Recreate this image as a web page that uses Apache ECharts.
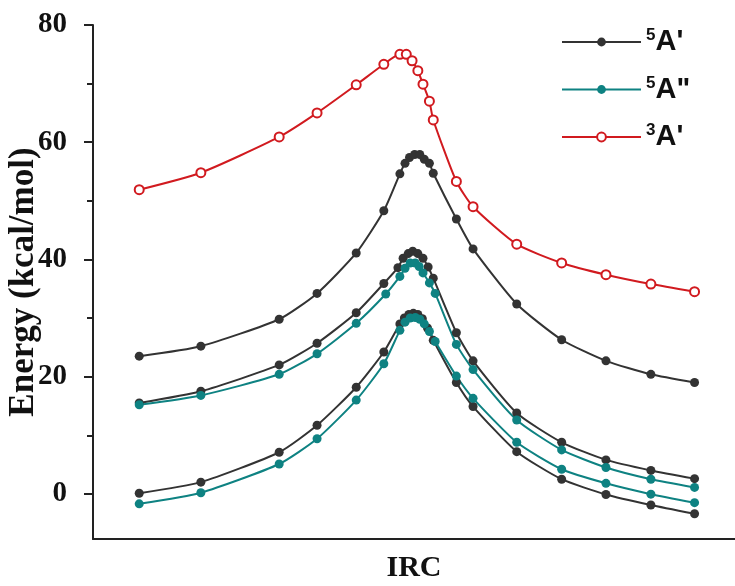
<!DOCTYPE html>
<html>
<head>
<meta charset="utf-8">
<script src="https://cdn.jsdelivr.net/npm/echarts@6/dist/echarts.min.js"></script>
<style>html,body{margin:0;padding:0;background:#fff}#c{width:735px;height:586px}</style>
</head>
<body>
<div id="c"></div>
<script>
// IRC coordinates (arbitrary units) and energies (kcal/mol)
const redX = [7.2,16.8,29.0,34.9,41.0,45.3,47.8,48.8,49.7,50.6,51.4,52.4,53.0,56.6,59.2,66.0,73.0,79.9,86.9,93.7];
const redY = [51.9,54.8,60.9,65.0,69.8,73.3,75.0,75.0,73.9,72.2,69.9,67.0,63.8,53.3,49.0,42.6,39.4,37.4,35.8,34.5];

const blkTopX = [7.2,16.8,29.0,34.9,41.0,45.3,47.8,48.6,49.3,50.1,50.9,51.6,52.4,53.0,56.6,59.2,66.0,73.0,79.9,86.9,93.7];
const blkTopY = [23.5,25.2,29.8,34.2,41.1,48.3,54.6,56.4,57.4,57.9,57.9,57.1,56.4,54.7,46.9,41.8,32.4,26.3,22.7,20.4,19.0];

const blkMidX = [7.2,16.8,29.0,34.9,41.0,45.3,47.5,48.3,49.1,49.8,50.6,51.4,52.2,53.0,56.6,59.2,66.0,73.0,79.9,86.9,93.7];
const blkMidY = [15.5,17.5,22.0,25.7,30.9,35.9,38.6,40.2,41.0,41.4,41.0,40.2,38.7,36.8,27.5,22.7,13.8,8.8,5.8,4.0,2.6];

const tealMidX = [7.2,16.8,29.0,34.9,41.0,45.6,47.8,48.6,49.4,50.2,50.8,51.4,52.4,53.3,56.6,59.2,66.0,73.0,79.9,86.9,93.7];
const tealMidY = [15.2,16.8,20.4,23.9,29.1,34.1,37.1,38.5,39.4,39.4,38.8,37.7,36.0,34.2,25.5,21.2,12.6,7.5,4.5,2.5,1.1];

const blkLowX = [7.2,16.8,29.0,34.9,41.0,45.3,47.8,48.5,49.2,49.9,50.6,51.3,52.1,53.0,56.6,59.2,66.0,73.0,79.9,86.9,93.7];
const blkLowY = [0.1,2.0,7.1,11.7,18.2,24.2,29.0,30.0,30.6,30.8,30.6,29.9,28.3,26.2,19.0,14.9,7.2,2.5,-0.1,-1.9,-3.4];

const tealLowX = [7.2,16.8,29.0,34.9,41.0,45.3,47.8,48.6,49.4,50.2,50.9,51.6,52.4,53.3,56.6,59.2,66.0,73.0,79.9,86.9,93.7];
const tealLowY = [-1.7,0.2,5.1,9.4,16.0,22.2,27.9,29.3,30.0,30.1,29.8,29.0,27.7,26.0,20.1,16.3,8.8,4.2,1.8,-0.05,-1.5];

const yMajorTicks = [0,20,40,60,80];
const yMinorTicks = [10,30,50,70];
const legendNames = ["5A'", "5A\"", "3A'"];

const BLACK = '#333333', TEAL = '#0e8282', RED = '#d11a1f';
const zip = (xs, ys) => xs.map((x, i) => [x, ys[i]]);

function filled(name, color, xs, ys) {
  return {
    name, type: 'line', data: zip(xs, ys), smooth: 0.2,
    symbol: 'circle', symbolSize: 9,
    lineStyle: {color, width: 2}, itemStyle: {color, borderWidth: 0}
  };
}

const chart = echarts.init(document.getElementById('c'));
const serif = "'Times New Roman','Liberation Serif',serif";
const sans = "Arial,'Liberation Sans',sans-serif";
chart.setOption({
  animation: false,
  grid: {left: 93, right: 0, top: 25, bottom: 47, containLabel: false, outerBoundsMode: 'none'},
  xAxis: {
    type: 'value', min: 0, max: 100,
    axisLine: {onZero: false, lineStyle: {color: '#222', width: 2}},
    axisTick: {show: false}, axisLabel: {show: false}, splitLine: {show: false},
    name: 'IRC', nameLocation: 'middle', nameGap: 14, nameMoveOverlap: false,
    nameTextStyle: {fontFamily: serif, fontWeight: 'bold', fontSize: 30, color: '#111'}
  },
  yAxis: [{
    type: 'value', min: -7.7, max: 80,
    axisLine: {show: true, onZero: false, lineStyle: {color: '#222', width: 2}},
    axisTick: {show: true, length: 9, customValues: yMajorTicks, lineStyle: {color: '#222', width: 2}},
    axisLabel: {customValues: yMajorTicks, margin: 26, fontFamily: serif, fontWeight: 'bold', fontSize: 29, color: '#111'},
    splitLine: {show: false},
    name: 'Energy (kcal/mol)', nameLocation: 'middle', nameGap: 52, nameMoveOverlap: false,
    nameTextStyle: {fontFamily: serif, fontWeight: 'bold', fontSize: 35, color: '#111'}
  }, {
    type: 'value', min: -7.7, max: 80, position: 'left', offset: 0,
    axisLine: {show: false, onZero: false},
    axisTick: {show: true, length: 6, customValues: yMinorTicks, lineStyle: {color: '#222', width: 2}},
    axisLabel: {show: false}, splitLine: {show: false}
  }],
  legend: {
    orient: 'vertical', left: 556, top: 22, itemWidth: 79, itemHeight: 11, itemGap: 18,
    data: legendNames,
    formatter: n => '{s|' + n.charAt(0) + '}{a|' + n.slice(1) + '}',
    textStyle: {
      fontFamily: sans, fontWeight: 'bold', color: '#111', padding: [0, 0, 0, 0],
      rich: {
        s: {fontFamily: sans, fontWeight: 'bold', fontSize: 17, color: '#111', verticalAlign: 'top', lineHeight: 30},
        a: {fontFamily: sans, fontWeight: 'bold', fontSize: 29, color: '#111', lineHeight: 30}
      }
    }
  },
  series: [
    filled(legendNames[0], BLACK, blkTopX, blkTopY),
    filled(legendNames[0], BLACK, blkMidX, blkMidY),
    filled(legendNames[0], BLACK, blkLowX, blkLowY),
    filled(legendNames[1], TEAL, tealMidX, tealMidY),
    filled(legendNames[1], TEAL, tealLowX, tealLowY),
    {
      name: legendNames[2], type: 'line', data: zip(redX, redY), smooth: 0.2,
      symbol: 'circle', symbolSize: 9,
      lineStyle: {color: RED, width: 2}, itemStyle: {color: '#fff', borderColor: RED, borderWidth: 2}
    }
  ]
});
</script>
</body>
</html>
